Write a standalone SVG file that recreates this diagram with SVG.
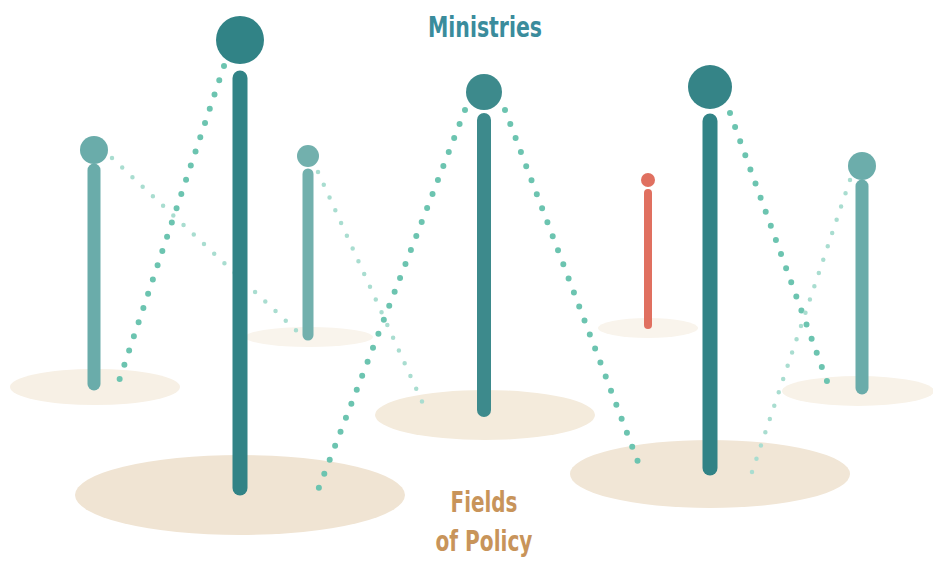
<svg xmlns="http://www.w3.org/2000/svg" width="933" height="561" viewBox="0 0 933 561">
<style>
.pole{stroke-linecap:round;fill:none}
.dk{stroke:#318386}
.md{stroke:#3d8a8c}
.lt{stroke:#6aacaa}
.red{stroke:#e07060}
.dotA{stroke:#6cc4b0;stroke-width:6;stroke-linecap:round;stroke-dasharray:0 15;fill:none}
.dotB{stroke:#a9ddd0;stroke-width:4.5;stroke-linecap:round;stroke-dasharray:0 14;fill:none}
.title{font-family:"DejaVu Sans Condensed","Liberation Sans",sans-serif;font-weight:bold;font-size:28px;text-anchor:middle}
</style>
<rect width="933" height="561" fill="#ffffff"/>
<g id="fields">
<ellipse cx="240" cy="495" rx="165" ry="40" fill="#f0e4d3"/>
<ellipse cx="485" cy="415" rx="110" ry="25" fill="#f4ebdc"/>
<ellipse cx="710" cy="474" rx="140" ry="34" fill="#f1e6d6"/>
<ellipse cx="95" cy="387" rx="85" ry="18" fill="#f7f0e5"/>
<ellipse cx="309" cy="337" rx="64" ry="10" fill="#f9f4ec"/>
<ellipse cx="648" cy="328" rx="50" ry="10" fill="#f9f4ec"/>
<ellipse cx="858" cy="391" rx="76" ry="15" fill="#f8f2e8"/>
</g>
<g id="connectors">
<line class="dotA" x1="224" y1="66" x2="118" y2="384"/>
<line class="dotB" x1="112" y1="158" x2="300" y2="334"/>
<line class="dotB" x1="318" y1="172" x2="424" y2="406"/>
<line class="dotA" x1="465" y1="110" x2="318" y2="490"/>
<line class="dotA" x1="505" y1="110" x2="641" y2="470"/>
<line class="dotA" x1="730" y1="113" x2="828" y2="384"/>
<line class="dotB" x1="850" y1="180" x2="752" y2="472"/>
</g>
<g id="pole1">
<circle cx="240" cy="40" r="24" fill="#318386"/>
<line class="pole dk" x1="240" y1="78" x2="240" y2="488" stroke-width="15"/>
</g>
<g id="pole2">
<circle cx="94" cy="150" r="14" fill="#6aacaa"/>
<line class="pole lt" x1="94" y1="170" x2="94" y2="384" stroke-width="13"/>
</g>
<g id="pole3">
<circle cx="308" cy="156" r="11" fill="#72b0ad"/>
<line class="pole" stroke="#72b0ad" x1="308" y1="174" x2="308" y2="335" stroke-width="11"/>
</g>
<g id="pole4">
<circle cx="484" cy="92" r="18" fill="#3d8a8c"/>
<line class="pole md" x1="484" y1="120" x2="484" y2="410" stroke-width="14"/>
</g>
<g id="pole5">
<circle cx="648" cy="180" r="7" fill="#e07060"/>
<line class="pole red" x1="648" y1="193" x2="648" y2="325" stroke-width="8"/>
</g>
<g id="pole6">
<circle cx="710" cy="87" r="22" fill="#358487"/>
<line class="pole dk" x1="710" y1="121" x2="710" y2="468" stroke-width="15"/>
</g>
<g id="pole7">
<circle cx="862" cy="166" r="14" fill="#6cadab"/>
<line class="pole lt" x1="862" y1="186" x2="862" y2="388" stroke-width="13"/>
</g>
<g id="labels">
<text class="title" x="485" y="37" fill="#3a8c9c" textLength="114" lengthAdjust="spacingAndGlyphs">Ministries</text>
<text class="title" x="484" y="512" fill="#c8945a" textLength="67" lengthAdjust="spacingAndGlyphs">Fields</text>
<text class="title" x="484" y="551" fill="#c8945a" textLength="97" lengthAdjust="spacingAndGlyphs">of Policy</text>
</g>
</svg>
